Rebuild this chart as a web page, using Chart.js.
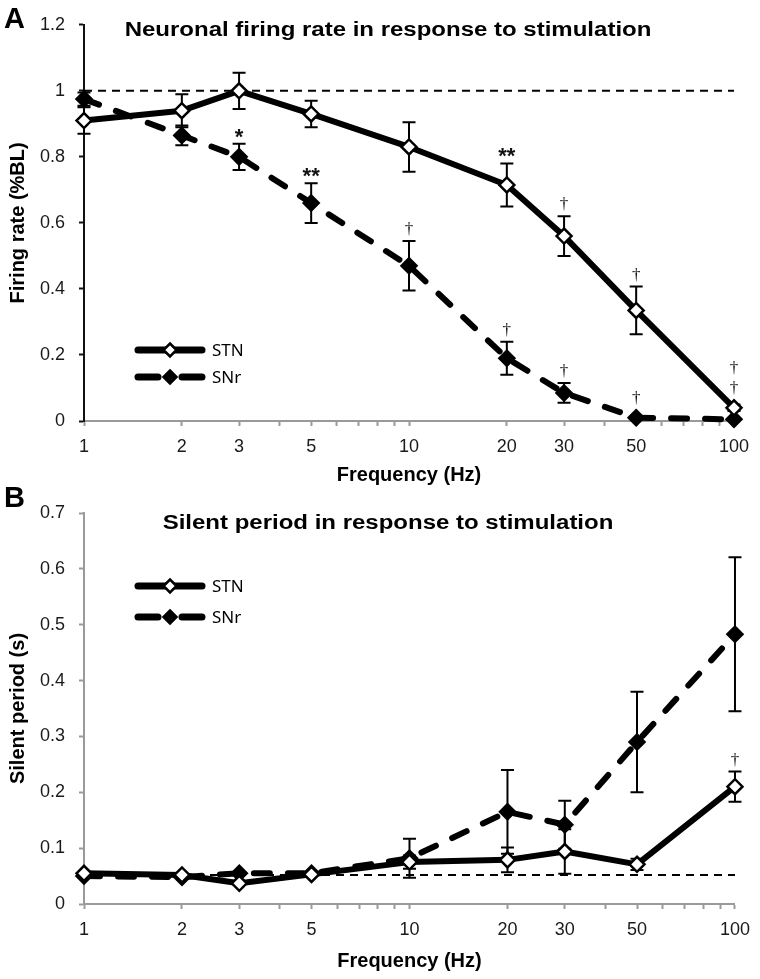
<!DOCTYPE html>
<html>
<head>
<meta charset="utf-8">
<script src="https://cdn.jsdelivr.net/npm/chart.js@4"></script>
<style>
  html, body { margin: 0; padding: 0; background: #fff; }
  #wrap { position: relative; width: 760px; height: 979px; }
  canvas { position: absolute; left: 0; }
  #rate { top: 0; }
  #silent { top: 478px; }
</style>
</head>
<body>
<div id="wrap">
  <canvas id="rate" width="760" height="490"></canvas>
  <canvas id="silent" width="760" height="501"></canvas>
</div>
<script>
// shared x axis (Hz, log scale)
const freqs = [1, 2, 3, 5, 10, 20, 30, 50, 100];
const xTickLabels = [1, 2, 3, 5, 10, 20, 30, 50, 100];
const xTickMarks = [1, 2, 3, 4, 5, 6, 7, 8, 9, 10, 20, 30, 40, 50, 60, 70, 80, 90, 100];
const seriesNames = ['STN', 'SNr'];

// Panel A - firing rate (%BL)
const rateStn = [0.91, 0.94, 1.0, 0.93, 0.83, 0.715, 0.56, 0.335, 0.04];
const rateStnErr = [0.04, 0.05, 0.055, 0.04, 0.075, 0.065, 0.06, 0.072, 0.01];
const rateSnr = [0.975, 0.865, 0.80, 0.66, 0.47, 0.19, 0.085, 0.01, 0.005];
const rateSnrErr = [0.02, 0.03, 0.04, 0.06, 0.075, 0.05, 0.03, 0, 0];
const rateStnSig = ['', '', '', '', '', '**', '†', '†', '†'];
const rateSnrSig = ['', '', '*', '**', '†', '†', '†', '†', '†'];
const rateBaseline = [1, 1];

// Panel B - silent period (s)
const silentStn = [0.055, 0.052, 0.037, 0.053, 0.075, 0.079, 0.094, 0.071, 0.21];
const silentStnErr = [0, 0, 0, 0, 0.012, 0.022, 0.04, 0.01, 0.027];
const silentSnr = [0.05, 0.048, 0.055, 0.055, 0.082, 0.165, 0.142, 0.29, 0.483];
const silentSnrErr = [0, 0, 0, 0, 0.035, 0.075, 0.043, 0.09, 0.138];
const silentStnSig = ['', '', '', '', '', '', '', '', '†'];
const silentSnrSig = ['', '', '', '', '', '', '', '', ''];
const silentBaseline = [0.052, 0.052];

const SANS = '"Liberation Sans", Arial, sans-serif';
const SERIF = '"Liberation Serif", "Times New Roman", serif';

const toPoints = vals => vals.map((v, i) => ({x: freqs[i], y: v}));

// error bars under the markers
const errorBars = {
  id: 'errorBars',
  beforeDatasetsDraw(chart) {
    const ctx = chart.ctx;
    const yScale = chart.scales.y;
    ctx.save();
    ctx.strokeStyle = '#000';
    ctx.lineWidth = 2;
    chart.data.datasets.forEach((ds, i) => {
      if (!ds.errors) return;
      chart.getDatasetMeta(i).data.forEach((pt, j) => {
        const e = ds.errors[j];
        if (!e) return;
        const top = yScale.getPixelForValue(ds.data[j].y + e);
        const bot = yScale.getPixelForValue(Math.max(ds.data[j].y - e, yScale.min));
        ctx.beginPath();
        ctx.moveTo(pt.x, top); ctx.lineTo(pt.x, bot);
        ctx.moveTo(pt.x - 6.5, top); ctx.lineTo(pt.x + 6.5, top);
        ctx.moveTo(pt.x - 6.5, bot); ctx.lineTo(pt.x + 6.5, bot);
        ctx.stroke();
      });
    });
    ctx.restore();
  }
};

// significance marks (* and dagger) above each point, stacked upward when they collide
const sigMarks = {
  id: 'sigMarks',
  afterDatasetsDraw(chart) {
    const ctx = chart.ctx;
    const yScale = chart.scales.y;
    const marks = [];
    chart.data.datasets.forEach((ds, i) => {
      if (!ds.sig) return;
      chart.getDatasetMeta(i).data.forEach((pt, j) => {
        if (!ds.sig[j]) return;
        const top = Math.min(yScale.getPixelForValue(ds.data[j].y + (ds.errors[j] || 0)), pt.y - 8);
        marks.push({x: pt.x, bottom: top - 6, text: ds.sig[j]});
      });
    });
    marks.sort((a, b) => a.bottom - b.bottom);
    const placed = [];
    ctx.save();
    ctx.fillStyle = '#111';
    ctx.textAlign = 'center';
    ctx.textBaseline = 'alphabetic';
    marks.forEach(m => {
      let moved = true;
      while (moved) {
        moved = false;
        placed.forEach(p => {
          if (Math.abs(p.x - m.x) < 4 && Math.abs(p.bottom - m.bottom) < 20) {
            m.bottom = p.bottom - 20;
            moved = true;
          }
        });
      }
      placed.push(m);
      if (m.text.startsWith('*')) {
        ctx.font = 'bold 22px ' + SANS;
        ctx.fillText(m.text, m.x, m.bottom + 6);
      } else {
        ctx.font = '17px ' + SERIF;
        ctx.fillText(m.text, m.x, m.bottom - 1);
      }
    });
    ctx.restore();
  }
};

// inline legend, panel letter and title
const decorations = {
  id: 'decorations',
  afterDraw(chart, args, opts) {
    const ctx = chart.ctx;
    ctx.save();
    ctx.fillStyle = '#000';
    ctx.textBaseline = 'middle';
    ctx.textAlign = 'left';
    ctx.font = 'bold 29px ' + SANS;
    ctx.fillText(opts.letter, 4, opts.letterY);

    // title, widened like the original figure
    ctx.save();
    ctx.translate(388, opts.titleY);
    ctx.scale(1.2, 1);
    ctx.textAlign = 'center';
    ctx.font = 'bold 20px ' + SANS;
    ctx.fillText(opts.title, 0, 0);
    ctx.restore();

    // legend
    const x0 = 135, x1 = 205, xm = 170;
    chart.data.datasets.forEach(ds => {
      if (!ds.legendLabel) return;
      const y = opts.legendY[ds.legendIndex];
      ctx.strokeStyle = '#000';
      ctx.lineWidth = 7;
      ctx.lineCap = 'round';
      ctx.beginPath();
      if (ds.borderDash && ds.borderDash.length) {
        ctx.moveTo(x0 + 3, y); ctx.lineTo(xm - 12, y);
        ctx.moveTo(xm + 12, y); ctx.lineTo(x1 - 3, y);
      } else {
        ctx.moveTo(x0 + 3, y); ctx.lineTo(x1 - 3, y);
      }
      ctx.stroke();
      ctx.beginPath();
      ctx.moveTo(xm, y - 6.5); ctx.lineTo(xm + 6.5, y); ctx.lineTo(xm, y + 6.5); ctx.lineTo(xm - 6.5, y);
      ctx.closePath();
      ctx.fillStyle = ds.pointBackgroundColor;
      ctx.fill();
      ctx.lineWidth = 2.5;
      ctx.lineCap = 'butt';
      ctx.stroke();
      ctx.fillStyle = '#000';
      ctx.textAlign = 'left';
      ctx.font = '17px "Noto Sans", sans-serif';
      ctx.fillText(ds.legendLabel, x1 + 7, y + 1);
    });
    ctx.restore();
  }
};

function seriesDataset(label, idx, vals, errs, sig) {
  const solid = idx === 0;
  return {
    label: label,
    legendLabel: label,
    legendIndex: idx,
    data: toPoints(vals),
    errors: errs,
    sig: sig,
    clip: false,
    borderColor: '#000',
    borderWidth: 6,
    borderDash: solid ? [] : [16, 18],
    borderCapStyle: 'round',
    borderJoinStyle: 'round',
    pointStyle: 'rectRot',
    pointRadius: 7.5,
    pointBorderWidth: 2.5,
    pointBorderColor: '#000',
    pointBackgroundColor: solid ? '#fff' : '#000',
    tension: 0,
    order: idx
  };
}

function makeChart(canvas, p) {
  return new Chart(canvas, {
    type: 'line',
    data: {
      datasets: [
        seriesDataset(seriesNames[0], 0, p.stn, p.stnErr, p.stnSig),
        seriesDataset(seriesNames[1], 1, p.snr, p.snrErr, p.snrSig),
        {
          label: 'baseline',
          data: [{x: freqs[0], y: p.baseline[0]}, {x: freqs[freqs.length - 1], y: p.baseline[1]}],
          borderColor: '#000',
          borderWidth: 2,
          borderDash: [8, 6],
          pointRadius: 0,
          order: 5
        }
      ]
    },
    options: {
      responsive: false,
      animation: false,
      devicePixelRatio: 1,
      layout: {padding: {top: p.top, right: p.right, left: 0, bottom: 0}},
      plugins: {
        legend: {display: false},
        tooltip: {enabled: false},
        decorations: {letter: p.letter, letterY: p.letterY, title: p.title, titleY: p.titleY, legendY: p.legendY}
      },
      scales: {
        x: {
          type: 'logarithmic',
          min: 1,
          max: 100,
          afterBuildTicks: s => { s.ticks = xTickMarks.map(v => ({value: v})); },
          afterFit: s => { s.height = p.xHeight; },
          border: {display: true, color: '#9a9a9a', width: 2},
          grid: {drawOnChartArea: false, drawTicks: true, tickLength: 5, tickColor: '#9a9a9a', tickWidth: 2},
          ticks: {
            autoSkip: false,
            maxRotation: 0,
            padding: 10,
            color: '#1a1a1a',
            font: {family: SANS, size: 18},
            callback: v => xTickLabels.includes(v) ? String(v) : ''
          },
          title: {
            display: true,
            text: 'Frequency (Hz)',
            color: '#000',
            font: {family: SANS, size: 20, weight: 'bold'},
            padding: {top: 0, bottom: p.xTitlePad}
          }
        },
        y: {
          min: 0,
          max: p.yMax,
          afterFit: s => { s.width = 84; },
          border: {display: true, color: p.yAxisColor, width: 2},
          grid: {drawOnChartArea: false, drawTicks: true, tickLength: 5, tickColor: p.yAxisColor, tickWidth: 2},
          ticks: {
            stepSize: p.yStep,
            padding: 14,
            color: '#1a1a1a',
            font: {family: SANS, size: 18},
            callback: v => String(+v.toFixed(1))
          },
          title: {
            display: true,
            text: p.yTitle,
            color: '#000',
            font: {family: SANS, size: 20, weight: 'bold'},
            padding: {top: 6, bottom: 0}
          }
        }
      }
    },
    plugins: [errorBars, sigMarks, decorations]
  });
}

makeChart(document.getElementById('rate'), {
  stn: rateStn, stnErr: rateStnErr, stnSig: rateStnSig,
  snr: rateSnr, snrErr: rateSnrErr, snrSig: rateSnrSig,
  baseline: rateBaseline,
  yMax: 1.2, yStep: 0.2, yTitle: 'Firing rate (%BL)', yAxisColor: '#111',
  top: 21, right: 26, xHeight: 69, xTitlePad: 3,
  letter: 'A', letterY: 20, title: 'Neuronal firing rate in response to stimulation', titleY: 30,
  legendY: [350, 377]
});

makeChart(document.getElementById('silent'), {
  stn: silentStn, stnErr: silentStnErr, stnSig: silentStnSig,
  snr: silentSnr, snrErr: silentSnrErr, snrSig: silentSnrSig,
  baseline: silentBaseline,
  yMax: 0.7, yStep: 0.1, yTitle: 'Silent period (s)', yAxisColor: '#9a9a9a',
  top: 35, right: 22, xHeight: 75, xTitlePad: 6,
  letter: 'B', letterY: 21, title: 'Silent period in response to stimulation', titleY: 45,
  legendY: [108, 139]
});
</script>
</body>
</html>
